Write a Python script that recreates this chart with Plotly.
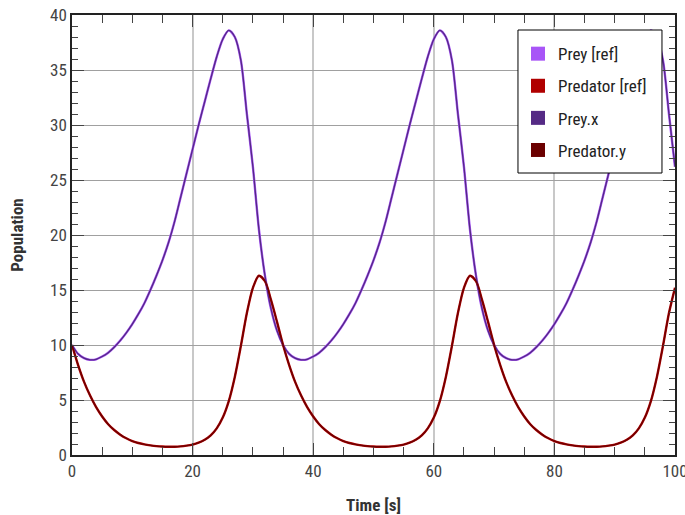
import plotly.graph_objects as go

# Simulation time [s], sampled once per second
time_s = list(range(0, 101))

# Prey population (reference run)
prey_ref = [
    10.0, 9.2, 8.8, 8.65, 8.7, 8.95, 9.3, 9.8, 10.4, 11.1,
    11.9, 12.8, 13.8, 15.0, 16.3, 17.7, 19.3, 21.2, 23.4, 25.6,
    27.8, 30.0, 32.1, 34.2, 36.2, 37.8, 38.6, 38.0, 35.9, 31.0,
    26.2, 20.5, 16.3, 13.3, 11.3,
    10.0, 9.2, 8.8, 8.65, 8.7, 8.95, 9.3, 9.8, 10.4, 11.1,
    11.9, 12.8, 13.8, 15.0, 16.3, 17.7, 19.3, 21.2, 23.4, 25.6,
    27.8, 30.0, 32.1, 34.2, 36.2, 37.8, 38.6, 38.0, 35.9, 31.0,
    26.2, 20.5, 16.3, 13.3, 11.3,
    10.0, 9.2, 8.8, 8.65, 8.7, 8.95, 9.3, 9.8, 10.4, 11.1,
    11.9, 12.8, 13.8, 15.0, 16.3, 17.7, 19.3, 21.2, 23.4, 25.6,
    27.8, 30.0, 32.1, 34.2, 36.2, 37.8, 38.6, 38.0, 35.9, 31.0,
    26.2,
]

# Predator population (reference run)
predator_ref = [
    10.0, 8.2, 6.65, 5.4, 4.35, 3.5, 2.8, 2.27, 1.85, 1.52,
    1.27, 1.09, 0.97, 0.88, 0.81, 0.77, 0.75, 0.75, 0.78, 0.85,
    0.95, 1.12, 1.38, 1.78, 2.42, 3.4, 4.9, 7.1, 9.9, 12.9,
    15.2, 16.3, 15.8, 14.1, 12.1,
    10.0, 8.2, 6.65, 5.4, 4.35, 3.5, 2.8, 2.27, 1.85, 1.52,
    1.27, 1.09, 0.97, 0.88, 0.81, 0.77, 0.75, 0.75, 0.78, 0.85,
    0.95, 1.12, 1.38, 1.78, 2.42, 3.4, 4.9, 7.1, 9.9, 12.9,
    15.2, 16.3, 15.8, 14.1, 12.1,
    10.0, 8.2, 6.65, 5.4, 4.35, 3.5, 2.8, 2.27, 1.85, 1.52,
    1.27, 1.09, 0.97, 0.88, 0.81, 0.77, 0.75, 0.75, 0.78, 0.85,
    0.95, 1.12, 1.38, 1.78, 2.42, 3.4, 4.9, 7.1, 9.9, 12.9,
    15.2,
]

# Simulated results (coincide with the reference)
prey_x = list(prey_ref)
predator_y = list(predator_ref)

series_names = ["Prey [ref]", "Predator [ref]", "Prey.x", "Predator.y"]
series_colors = ["#A855F7", "#B00000", "#552A85", "#6B0000"]
series_widths = [2.4, 2.4, 1.3, 1.3]
series_values = [prey_ref, predator_ref, prey_x, predator_y]

FONT = "Roboto Condensed, Liberation Sans Narrow, DejaVu Sans Condensed, Roboto, sans-serif"

fig = go.Figure()

for name, color, width, values in zip(series_names, series_colors, series_widths, series_values):
    fig.add_trace(go.Scatter(
        x=time_s, y=values, mode="lines", name=name,
        line=dict(color=color, width=width, shape="spline", smoothing=0.8),
        showlegend=False, hoverinfo="skip",
    ))

# Square legend keys
for i, (name, color) in enumerate(zip(series_names, series_colors)):
    fig.add_trace(go.Scatter(
        x=[None], y=[None], mode="markers", name=name,
        marker=dict(symbol="square", size=14, color=color),
        legendgroup=f"g{i}", showlegend=True,
    ))

axis_common = dict(
    showline=True, linecolor="#222222", linewidth=1.5, mirror="all",
    ticks="inside", tickcolor="#444444", tickwidth=1.3, ticklen=12,
    tickfont=dict(family=FONT, size=17, color="#444444"),
    ticklabeloverflow="allow",
    zeroline=False, automargin=False,
)

fig.update_xaxes(
    **axis_common,
    range=[0, 100], dtick=20, tick0=0,
    showgrid=True, gridcolor="#c8c8c8", gridwidth=2,
    minor=dict(dtick=5, ticklen=8, tickcolor="#444444", ticks="inside", showgrid=False),
    title=dict(text="<b>Time [s]</b>", font=dict(family=FONT, size=17, color="#333333"), standoff=22),
)
fig.update_yaxes(
    **axis_common,
    range=[0, 40], dtick=5, tick0=0,
    showgrid=True, gridcolor="#a0a0a0", gridwidth=1,
    minor=dict(dtick=1, ticklen=6, tickcolor="#444444", ticks="inside", showgrid=False),
    title=dict(text="<b>Population</b>", font=dict(family=FONT, size=17, color="#333333"), standoff=22),
)

# Framed box behind the legend entries (hides the curves underneath)
fig.add_shape(
    type="rect", xref="paper", yref="paper",
    x0=0.7396, x1=0.9784, y0=0.6409, y1=0.9659,
    fillcolor="white", line=dict(color="#000000", width=1), layer="above",
)

fig.update_layout(
    width=685, height=515,
    margin=dict(l=72, r=10, t=15, b=60),
    paper_bgcolor="white", plot_bgcolor="white",
    legend=dict(
        x=0.7396, y=0.952, xanchor="left", yanchor="top",
        bgcolor="rgba(0,0,0,0)", borderwidth=0,
        font=dict(family=FONT, size=17, color="#222222"),
        traceorder="grouped", tracegroupgap=7,
    ),
)

fig.write_html("out.html")
